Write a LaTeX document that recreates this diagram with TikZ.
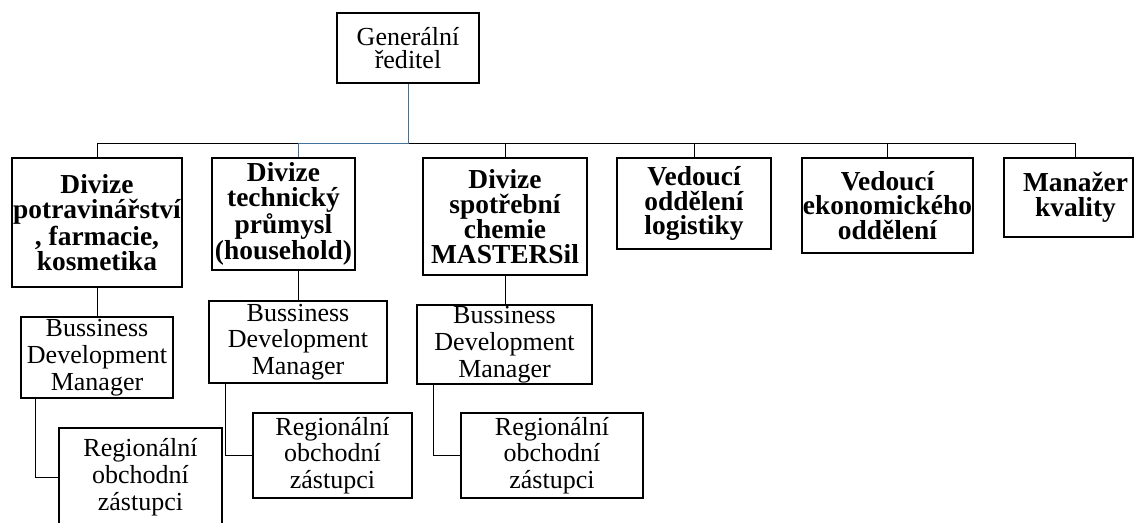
\documentclass[tikz,border=0pt]{standalone}
\usepackage{fontspec}
\setmainfont{Liberation Serif}
\usetikzlibrary{calc}

\begin{document}
\begin{tikzpicture}[x=0.025cm, y=-0.025cm]
    % Define colours
    \definecolor{borderColour}{HTML}{000000}
    \definecolor{linkBlue}{HTML}{41719C}

    % Define box and link styles
    \tikzset{
      box/.style={draw=borderColour, line width=1.5pt, inner sep=0pt, align=center},
      size/.style 2 args={minimum width=#1*0.025cm, minimum height=#2*0.025cm},
      headBox/.style={box, font=\fontsize{18.5}{16.5}\selectfont},
      divBox/.style={box, font=\bfseries\fontsize{19.5}{17.7}\selectfont},
      staffBox/.style={box, font=\fontsize{18.5}{19}\selectfont},
      link/.style={draw=borderColour, line width=0.7pt}
    }

  \useasboundingbox (0,0) rectangle (1134,522);

  % Top of the chart
  \node[headBox, size={142}{70}] (gen) at (408,48) {Generální\\ředitel};
  \coordinate (bar) at (408,143);

  % Divisions and departments
  \node[divBox, size={170}{129}] (div1) at (97,222.5) {Divize\\potravinářství\\, farmacie,\\kosmetika};
  \node[divBox, size={143}{112}] (div2) at (283.5,214) {Divize\\technický\\průmysl\\(household)};
  \node[divBox, size={164}{117}] (div3) at (505,216.5) {Divize\\spotřební\\chemie\\MASTERSil};
  \node[divBox, size={154}{91}] (div4) at (694,203.5) {Vedoucí\\oddělení\\logistiky};
  \node[divBox, size={171}{95}] (div5) at (887.5,205.5) {Vedoucí\\ekonomického\\oddělení};
  \node[divBox, size={129}{79}] (div6) at (1068.5,197.5) {\hspace*{10pt}Manažer\\\hspace*{10pt}kvality};
  \coordinate (div6top) at ($(div6.north)+(7,0)$);

  % Managers under the divisions
  \node[staffBox, size={152}{81}] (bdm1) at (97,357.5) {Bussiness\\Development\\Manager};
  \node[staffBox, size={178}{82}] (bdm2) at (298,342) {Bussiness\\Development\\Manager};
  \node[staffBox, size={175}{79}] (bdm3) at (504.5,344.5) {Bussiness\\Development\\Manager};

  % Regional sales representatives
  \node[staffBox, size={163}{98}] (reg1) at (140.5,477) {Regionální\\obchodní\\zástupci};
  \node[staffBox, size={159}{85}] (reg2) at (332.5,455.5) {Regionální\\obchodní\\zástupci};
  \node[staffBox, size={182}{85}] (reg3) at (552,455.5) {Regionální\\obchodní\\zástupci};

  % Draw the links
  \draw[link] (div1.north) -- (div1.north |- bar) -- (div6top |- bar) -- (div6top);
  \foreach \d in {div3,div4,div5}
    \draw[link] (\d.north) -- (\d.north |- bar);
  \draw[link, draw=linkBlue] (gen.south) -- (bar) -- (bar -| bdm2.north) -- (div2.north -| bdm2.north);

  \draw[link] (div1.south) -- (bdm1.north);
  \draw[link] (div2.south -| bdm2.north) -- (bdm2.north);
  \draw[link] (div3.south) -- (div3.south |- bdm3.north);

  \draw[link] ($(bdm1.south west)+(16,0)$) |- (reg1.west);
  \draw[link] ($(bdm2.south west)+(18,0)$) |- (reg2.west);
  \draw[link] ($(bdm3.south west)+(18,0)$) |- (reg3.west);

\end{tikzpicture}
\end{document}
